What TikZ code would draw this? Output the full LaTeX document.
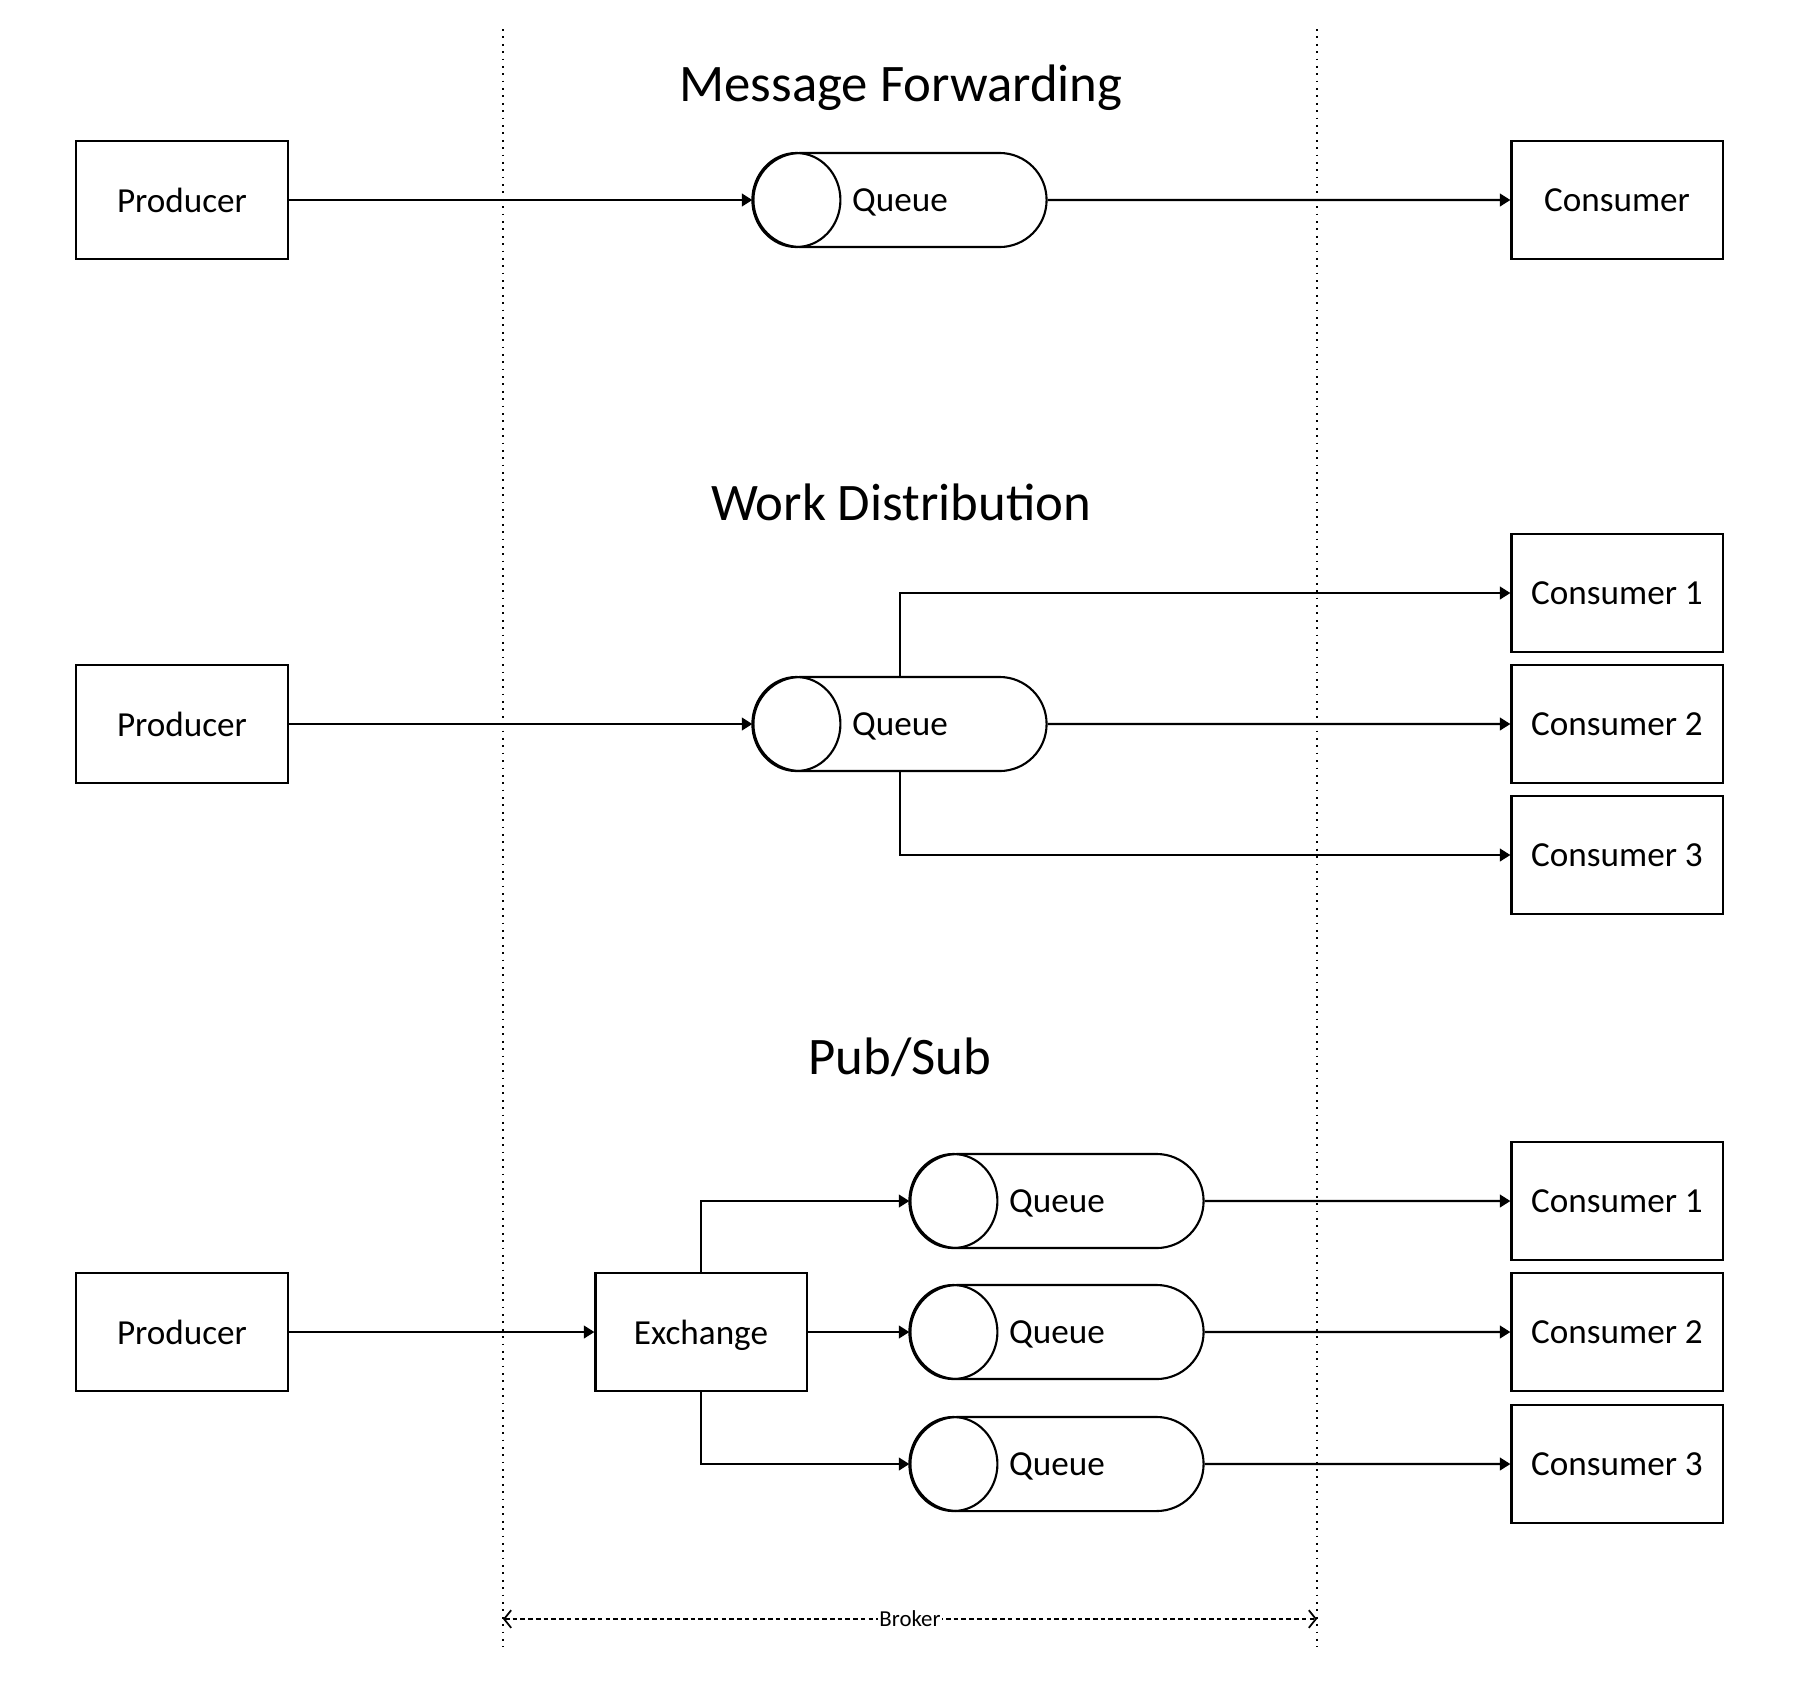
\documentclass[tikz,border=0pt]{standalone}
\usepackage{fontspec}
\setmainfont{Carlito}
\usetikzlibrary{arrows.meta,shapes.misc}
\tikzset{
  box/.style={draw,line width=0.6pt,minimum width=2.11cm,minimum height=1.18cm,inner sep=0pt,text depth=0pt,font=\fontsize{10}{12}\selectfont},
  queue/.style={draw,line width=0.6pt,rounded rectangle,minimum width=2.93cm,minimum height=0.94cm,inner sep=0pt,text depth=0pt,font=\fontsize{10}{12}\selectfont},
  link/.style={line width=0.6pt,-{Triangle[length=3pt,width=3.6pt]}},
  heading/.style={font=\fontsize{15}{18}\selectfont},
  border/.style={line width=0.4pt,dash pattern=on 0.5pt off 1.6pt},
}
\newcommand{\queuedisk}[1]{\draw[line width=0.6pt] ([xshift=0.44cm]#1.west) ellipse[x radius=0.44cm,y radius=0.47cm];}
\begin{document}
\begin{tikzpicture}[x=0.01cm,y=-0.01cm]
 \useasboundingbox (0,0) rectangle (1800,1693);
 % broker limits
 \draw[border] (503,29) -- (503,1647);
 \draw[border] (1317,29) -- (1317,1647);
 \coordinate (bl) at (503,1619);
 \coordinate (br) at (1317,1619);
 \draw[line width=0.5pt,dash pattern=on 1.3pt off 0.9pt,{Straight Barb[length=2pt,width=5pt]}-{Straight Barb[length=2pt,width=5pt]}] (bl) -- node[fill=white,inner sep=0.3pt,font=\fontsize{6.5}{8}\selectfont] (broker) {Broker} (br);

 % message forwarding
 \node[heading] (t1) at (901,88) {Message Forwarding};
 \node[box] (p1) at (182,200) {Producer};
 \node[queue] (q1) at (900,200) {Queue};
 \queuedisk{q1}
 \node[box] (c1) at (1617,200) {Consumer};
 \draw[link] (p1) -- (q1);
 \draw[link] (q1) -- (c1);

 % work distribution
 \node[heading] (t2) at (901,502) {Work Distribution};
 \node[box] (p2) at (182,724) {Producer};
 \node[queue] (q2) at (900,724) {Queue};
 \queuedisk{q2}
 \node[box] (c21) at (1617,593) {Consumer 1};
 \node[box] (c22) at (1617,724) {Consumer 2};
 \node[box] (c23) at (1617,855) {Consumer 3};
 \draw[link] (p2) -- (q2);
 \draw[link] (q2.north) |- (c21);
 \draw[link] (q2) -- (c22);
 \draw[link] (q2.south) |- (c23);

 % pub/sub
 \node[heading] (t3) at (900,1057) {Pub/Sub};
 \node[box] (p3) at (182,1332) {Producer};
 \node[box] (ex) at (701,1332) {Exchange};
 \node[queue] (q31) at (1057,1201) {Queue};
 \node[queue] (q32) at (1057,1332) {Queue};
 \node[queue] (q33) at (1057,1464) {Queue};
 \queuedisk{q31}
 \queuedisk{q32}
 \queuedisk{q33}
 \node[box] (c31) at (1617,1201) {Consumer 1};
 \node[box] (c32) at (1617,1332) {Consumer 2};
 \node[box] (c33) at (1617,1464) {Consumer 3};
 \draw[link] (p3) -- (ex);
 \draw[link] (ex.north) |- (q31);
 \draw[link] (ex) -- (q32);
 \draw[link] (ex.south) |- (q33);
 \draw[link] (q31) -- (c31);
 \draw[link] (q32) -- (c32);
 \draw[link] (q33) -- (c33);
\end{tikzpicture}
\end{document}
